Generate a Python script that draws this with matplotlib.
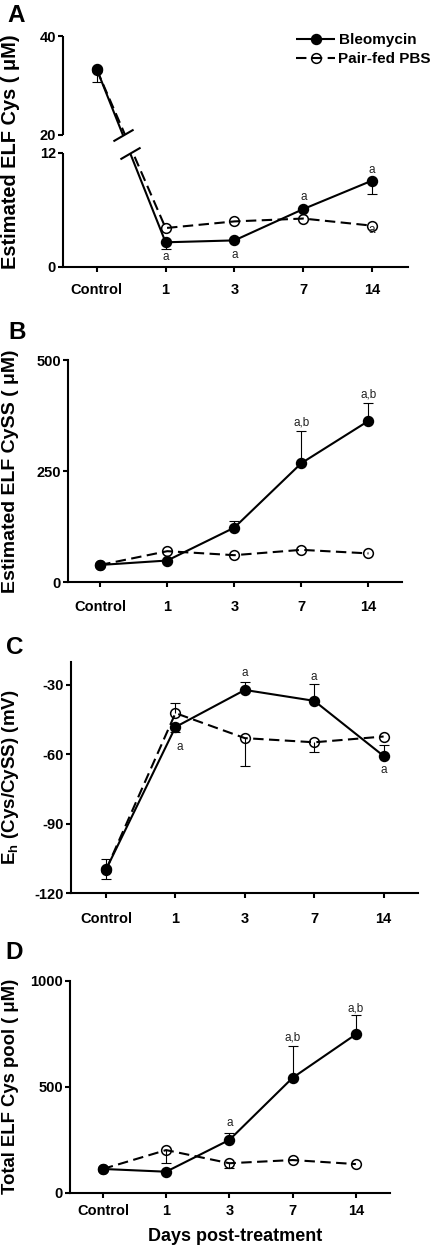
import numpy as np
import matplotlib
matplotlib.use("Agg")
import matplotlib.pyplot as plt

plt.rcParams.update({
    "font.family": ["Liberation Sans", "DejaVu Sans"],
    "font.weight": "bold",
    "axes.linewidth": 1.5,
    "axes.unicode_minus": False,
    "lines.solid_capstyle": "butt",
})

# ---------------- data ----------------
days = ["Control", "1", "3", "7", "14"]

# Panel A: estimated ELF Cys (uM)
cys_bleo = [33.3, 2.6, 2.8, 6.1, 9.1]
cys_bleo_lo = [2.5, 0.75, 0.0, 0.0, 1.4]
cys_bleo_hi = [0.0, 0.0, 0.0, 0.0, 0.0]
cys_pbs = [33.2, 4.1, 4.8, 5.1, 4.35]
cys_pbs_lo = [0.0, 0.0, 0.0, 0.0, 0.0]
cys_pbs_hi = [0.0, 0.0, 0.0, 0.0, 0.0]

# Panel B: estimated ELF CySS (uM)
cyss_bleo = [39, 49, 123, 268, 363]
cyss_bleo_lo = [0, 0, 0, 0, 0]
cyss_bleo_hi = [0, 0, 15, 73, 41]
cyss_pbs = [39, 70, 61, 73, 65]
cyss_pbs_lo = [0, 0, 0, 0, 0]
cyss_pbs_hi = [0, 0, 0, 0, 0]

# Panel C: Eh (Cys/CySS) (mV)
eh_bleo = [-109.7, -48.2, -32.2, -36.9, -60.7]
eh_bleo_lo = [4.3, 2.0, 0.0, 0.0, 0.0]
eh_bleo_hi = [0.0, 0.0, 3.6, 7.2, 4.7]
eh_pbs = [-109.8, -42.2, -53.0, -54.8, -52.3]
eh_pbs_lo = [0.0, 0.0, 11.9, 4.0, 0.0]
eh_pbs_hi = [4.5, 4.3, 0.0, 0.0, 0.0]

# Panel D: total ELF Cys pool (uM)
pool_bleo = [112, 99, 249, 542, 747]
pool_bleo_lo = [0, 0, 0, 0, 0]
pool_bleo_hi = [0, 0, 31, 150, 91]
pool_pbs = [112, 201, 139, 154, 135]
pool_pbs_lo = [0, 60, 24, 0, 0]
pool_pbs_hi = [0, 0, 0, 0, 0]

# significance notes: (day index, text, series, reference end)
notes_A = [(1, "a", "bleo", "bottom"), (2, "a", "bleo", "bottom"),
           (3, "a", "bleo", "top"), (4, "a", "bleo", "top"), (4, "a", "pbs", "bottom")]
notes_B = [(3, "a,b", "bleo", "top"), (4, "a,b", "bleo", "top")]
notes_C = [(1, "a", "bleo", "bottom"), (2, "a", "bleo", "top"),
           (3, "a", "bleo", "top"), (4, "a", "bleo", "bottom")]
notes_D = [(2, "a", "bleo", "top"), (3, "a,b", "bleo", "top"), (4, "a,b", "bleo", "top")]

# ---------------- layout ----------------
W, H = 432, 1245
PX = 72 / 100.0  # points per pixel
fig = plt.figure(figsize=(W / 100, H / 100), dpi=100)


def add_axes(left, top, right, bottom):
    return fig.add_axes([left / W, 1 - bottom / H, (right - left) / W, (bottom - top) / H])


x = np.arange(len(days))


def err_bars(ax, y, lo, hi, z):
    y = np.asarray(y, float)
    for e, sgn in ((np.asarray(hi, float), 1), (np.asarray(lo, float), -1)):
        m = e > 0
        if m.any():
            ends = y[m] + sgn * e[m]
            ax.vlines(x[m], y[m], ends, colors="k", lw=0.8, zorder=z)
            ax.plot(x[m], ends, ls="none", marker="_", ms=7.5, mew=0.8,
                    color="k", zorder=z)


def draw_series(ax, bleo, blo, bhi, pbs, plo, phi):
    err_bars(ax, pbs, plo, phi, 2)
    lp, = ax.plot(x, pbs, ls=(0, (5, 2.6)), lw=1.5, color="k", marker="o",
                  ms=7.0, mfc="none", mec="k", mew=1.1, zorder=3,
                  label="Pair-fed PBS")
    err_bars(ax, bleo, blo, bhi, 3)
    lb, = ax.plot(x, bleo, ls="-", lw=1.5, color="k", marker="o", ms=7.2,
                  mfc="k", mec="k", zorder=3.5, label="Bleomycin")
    return lb, lp


def add_notes(ax, notes, data, offsets):
    for (i, txt, ser, end), (dx, dy) in zip(notes, offsets):
        v, lo, hi = data[ser]
        yref = v[i] + hi[i] if end == "top" else v[i] - lo[i]
        ax.annotate(txt, xy=(x[i], yref), xytext=(dx * PX, dy * PX),
                    textcoords="offset points", ha="center", va="center",
                    fontsize=8.5, fontweight="normal", color="#222222",
                    zorder=6)


def style(ax, xlim, ylim, yticks, xpad):
    ax.set_xlim(*xlim)
    ax.set_ylim(*ylim)
    ax.set_xticks(x)
    ax.set_xticklabels(days)
    ax.set_yticks(yticks)
    ax.spines["top"].set_visible(False)
    ax.spines["right"].set_visible(False)
    ax.tick_params(axis="both", direction="out", length=3.5, width=1.5,
                   labelsize=10.5)
    ax.tick_params(axis="x", pad=xpad)
    ax.tick_params(axis="y", pad=1.5)


def ylab(ax, text, left, width, size):
    ax.set_ylabel(text, fontsize=size, fontweight="bold", ha="center", va="center")
    ax.yaxis.set_label_coords((10.5 - left) / width, 0.5)


def letter(text, xpx, ypx):
    fig.text(xpx / W, 1 - ypx / H, text, fontsize=17.5, fontweight="bold",
             ha="left", va="top")


# ---------------- panel A (broken axis) ----------------
axA = add_axes(63, 36, 408, 267)


def fwdA(y):
    y = np.asarray(y, float)
    return np.where(y <= 12, y * 9.5,
                    np.where(y < 20, 114 + (y - 12) * 18 / 8, 132 + (y - 20) * 4.95))


def invA(t):
    t = np.asarray(t, float)
    return np.where(t <= 114, t / 9.5,
                    np.where(t < 132, 12 + (t - 114) * 8 / 18, 20 + (t - 132) / 4.95))


axA.set_yscale("function", functions=(fwdA, invA))
lb, lp = draw_series(axA, cys_bleo, cys_bleo_lo, cys_bleo_hi,
                     cys_pbs, cys_pbs_lo, cys_pbs_hi)
style(axA, (-0.49, 4.52), (0, 40), [0, 12, 20, 40], 8.0)
axA.spines["left"].set_visible(False)
ytr = axA.get_yaxis_transform()
axA.plot([0, 0], [0, 12], transform=ytr, color="k", lw=1.5, clip_on=False, zorder=5)
axA.plot([0, 0], [20, 40], transform=ytr, color="k", lw=1.5, clip_on=False, zorder=5)
axA.axhspan(12, 20, color="white", zorder=4.5, lw=0)
# break marks where the Control->day1 segment crosses the gap edges
t0, t1 = fwdA(cys_bleo[0]), fwdA(cys_bleo[1])
for lvl in (20, 12):
    xc = x[0] + (t0 - fwdA(lvl)) / (t0 - t1) * (x[1] - x[0])
    axA.plot([xc], [lvl], ls="none", marker=[(-1, -0.58), (1, 0.58)], ms=14.5,
             mew=1.5, color="k", zorder=5, clip_on=False)
add_notes(axA, notes_A,
          {"bleo": (cys_bleo, cys_bleo_lo, cys_bleo_hi),
           "pbs": (cys_pbs, cys_pbs_lo, cys_pbs_hi)},
          [(0, -7.7), (0, -14.3), (0, 12), (0, 10.7), (0, -4.3)])
ylab(axA, "Estimated ELF Cys ( \u03bcM)", 63, 345, 14.4)
fig.legend(handles=[lb, lp], loc="upper right",
           bbox_to_anchor=(431 / W, 1 - 33 / H), frameon=False,
           prop={"size": 11, "weight": "bold"}, handlelength=2.5,
           handletextpad=0.25, labelspacing=0.35, borderpad=0, borderaxespad=0)
letter("A", 7, 4)

# ---------------- panel B ----------------
axB = add_axes(68, 360, 402, 582.3)
draw_series(axB, cyss_bleo, cyss_bleo_lo, cyss_bleo_hi,
            cyss_pbs, cyss_pbs_lo, cyss_pbs_hi)
style(axB, (-0.48, 4.5), (0, 500), [0, 250, 500], 9.4)
add_notes(axB, notes_B,
          {"bleo": (cyss_bleo, cyss_bleo_lo, cyss_bleo_hi)},
          [(0, 7.7), (0, 7.7)])
ylab(axB, "Estimated ELF CySS ( \u03bcM)", 68, 334, 14)
letter("B", 8, 321)

# ---------------- panel C ----------------
axC = add_axes(70.7, 661.7, 418.3, 893.3)
draw_series(axC, eh_bleo, eh_bleo_lo, eh_bleo_hi, eh_pbs, eh_pbs_lo, eh_pbs_hi)
style(axC, (-0.51, 4.5), (-120, -20), [-120, -90, -60, -30], 10.0)
add_notes(axC, notes_C,
          {"bleo": (eh_bleo, eh_bleo_lo, eh_bleo_hi)},
          [(4, -15), (0, 8.7), (0, 7.3), (0, -14)])
ylab(axC, r"E$_\mathregular{h}$ (Cys/CySS) (mV)", 70.7, 347.6, 13.5)
letter("C", 6, 636)

# ---------------- panel D ----------------
axD = add_axes(70, 980.7, 390, 1192.7)
draw_series(axD, pool_bleo, pool_bleo_lo, pool_bleo_hi,
            pool_pbs, pool_pbs_lo, pool_pbs_hi)
style(axD, (-0.52, 4.54), (0, 1000), [0, 500, 1000], 4.3)
add_notes(axD, notes_D,
          {"bleo": (pool_bleo, pool_bleo_lo, pool_bleo_hi)},
          [(0, 10.3), (0, 8), (0, 7)])
ylab(axD, "Total ELF Cys pool ( \u03bcM)", 70, 320, 13.3)
axD.set_xlabel("Days post-treatment", fontsize=13, fontweight="bold", labelpad=6)
axD.xaxis.set_label_coords((235 - 70) / 320, -0.165)
letter("D", 5, 941)

fig.savefig("out.png", dpi=100)
